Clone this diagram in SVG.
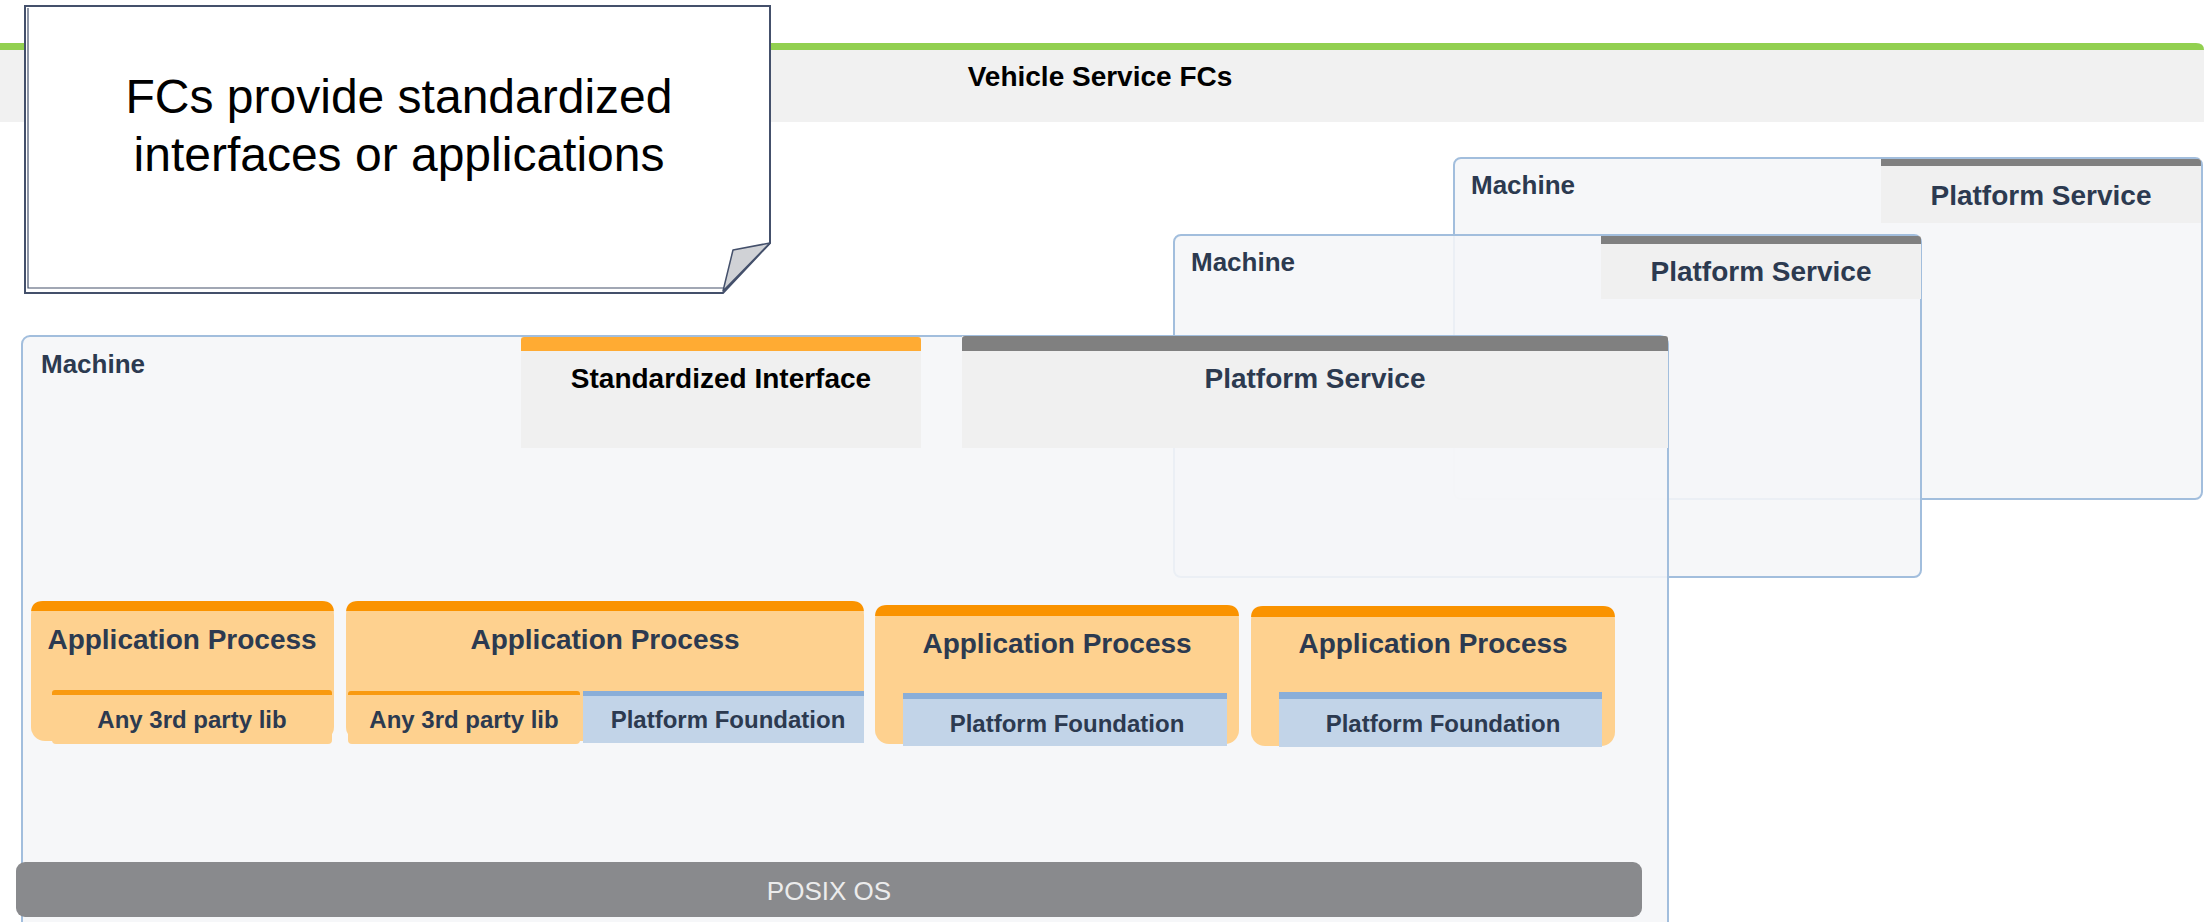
<svg xmlns="http://www.w3.org/2000/svg" width="2209" height="922" viewBox="0 0 2209 922">
<style>
.t{font-family:"Liberation Sans",Arial,sans-serif;font-weight:bold;text-anchor:middle}
.dk{fill:#2c3a50}
.mach{fill:#f5f6f8;fill-opacity:0.88;stroke:#a2bedd;stroke-width:2}
.hdr{fill:#f0f0f0}
.gbar{fill:#808080}
.app{fill:#fed18f}
.abar{fill:#fa9300}
.lib{fill:#fed18f}
.libbar{fill:#f99a10}
.pf{fill:#c2d4e8}
.pfbar{fill:#8aaed8}
.f28{font-size:28px}
.f24{font-size:24px}
.f26{font-size:26px}
</style>
<rect width="2209" height="922" fill="#ffffff"/>

<g id="vehicle-service-fcs">
  <path d="M0,43 H2196 Q2204,43 2204,51 V122 H0 Z" fill="#f1f1f1"/>
  <path d="M0,43 H2196 Q2204,43 2204,50 H0 Z" fill="#92d050"/>
  <text class="t f28" x="1100" y="86" fill="#000">Vehicle Service FCs</text>
</g>

<g id="machine-3">
  <rect class="mach" x="1454" y="158" width="748" height="341" rx="7"/>
  <text class="t f26 dk" x="1471" y="194" style="text-anchor:start">Machine</text>
  <g id="platform-service-3">
    <rect class="hdr" x="1881" y="159" width="320" height="64"/>
    <path class="gbar" d="M1881,159 H2198 Q2201,159 2201,162 V166 H1881 Z"/>
    <text class="t f28 dk" x="2041" y="205">Platform Service</text>
  </g>
</g>

<g id="machine-2">
  <rect class="mach" x="1174" y="235" width="747" height="342" rx="7"/>
  <text class="t f26 dk" x="1191" y="271" style="text-anchor:start">Machine</text>
  <g id="platform-service-2">
    <rect class="hdr" x="1601" y="236" width="320" height="63"/>
    <path class="gbar" d="M1601,236 H1918 Q1921,236 1921,239 V244 H1601 Z"/>
    <text class="t f28 dk" x="1761" y="281">Platform Service</text>
  </g>
</g>

<g id="machine-1">
  <rect class="mach" x="22" y="336" width="1646" height="600" rx="8"/>
  <text class="t f26 dk" x="41" y="373" style="text-anchor:start">Machine</text>
</g>

<g id="standardized-interface">
  <rect class="hdr" x="521" y="337" width="400" height="111"/>
  <path d="M521,351 V340 Q521,337 524,337 H918 Q921,337 921,340 V351 Z" fill="#ffab33"/>
  <text class="t f28" x="721" y="388" fill="#000">Standardized Interface</text>
</g>

<g id="platform-service-1">
  <rect class="hdr" x="962" y="336" width="706" height="112"/>
  <path class="gbar" d="M962,351 V339 Q962,336 965,336 H1665 Q1668,336 1668,339 V351 Z"/>
  <text class="t f28 dk" x="1315" y="388">Platform Service</text>
</g>

<g id="app-process-1">
  <rect class="app" x="31" y="601" width="303" height="140" rx="14"/>
  <path class="abar" d="M31,613 Q31,601 43,601 H322 Q334,601 334,613 V611 H31 Z"/>
  <text class="t f28 dk" x="182" y="649">Application Process</text>
  <g id="lib-1">
    <rect class="lib" x="52" y="690" width="280" height="54" rx="4"/>
    <path class="libbar" d="M52,695 V693 Q52,690 55,690 H329 Q332,690 332,693 V695 Z"/>
    <text class="t f24 dk" x="192" y="728">Any 3rd party lib</text>
  </g>
</g>

<g id="app-process-2">
  <rect class="app" x="346" y="601" width="518" height="140" rx="14"/>
  <path class="abar" d="M346,613 Q346,601 358,601 H852 Q864,601 864,613 V611 H346 Z"/>
  <text class="t f28 dk" x="605" y="649">Application Process</text>
  <g id="lib-2">
    <rect class="lib" x="348" y="691" width="232" height="53" rx="4"/>
    <path class="libbar" d="M348,695 V694 Q348,691 351,691 H577 Q580,691 580,694 V695 Z"/>
    <text class="t f24 dk" x="464" y="728">Any 3rd party lib</text>
  </g>
  <g id="pf-2">
    <rect class="pf" x="583" y="691" width="281" height="52"/>
    <rect class="pfbar" x="583" y="691" width="281" height="5"/>
    <text class="t f24 dk" x="728" y="728">Platform Foundation</text>
  </g>
</g>

<g id="app-process-3">
  <rect class="app" x="875" y="605" width="364" height="139" rx="14"/>
  <path class="abar" d="M875,617 Q875,605 887,605 H1227 Q1239,605 1239,617 V616 H875 Z"/>
  <text class="t f28 dk" x="1057" y="653">Application Process</text>
  <g id="pf-3">
    <rect class="pf" x="903" y="693" width="324" height="53"/>
    <rect class="pfbar" x="903" y="693" width="324" height="6"/>
    <text class="t f24 dk" x="1067" y="732">Platform Foundation</text>
  </g>
</g>

<g id="app-process-4">
  <rect class="app" x="1251" y="606" width="364" height="140" rx="14"/>
  <path class="abar" d="M1251,618 Q1251,606 1263,606 H1603 Q1615,606 1615,618 V617 H1251 Z"/>
  <text class="t f28 dk" x="1433" y="653">Application Process</text>
  <g id="pf-4">
    <rect class="pf" x="1279" y="692" width="323" height="55"/>
    <rect class="pfbar" x="1279" y="692" width="323" height="7"/>
    <text class="t f24 dk" x="1443" y="732">Platform Foundation</text>
  </g>
</g>

<g id="posix-os">
  <rect x="16" y="862" width="1626" height="55" rx="9" fill="#898a8d"/>
  <text x="829" y="900" font-family="'Liberation Sans',Arial,sans-serif" font-size="26" fill="#ececec" text-anchor="middle">POSIX OS</text>
</g>

<g id="note">
  <polygon points="25,6 770,6 770,243 723,293 25,293" fill="#ffffff" stroke="#44506b" stroke-width="2"/>
  <polyline points="28,8 28,288 726,288" fill="none" stroke="#44506b" stroke-width="1.2"/>
  <polygon points="733,250 770,243 723,291" fill="#d0d2d6" stroke="#44506b" stroke-width="1.5" stroke-linejoin="round"/>
  <text x="399" y="113" font-family="'Liberation Sans',Arial,sans-serif" font-size="48" fill="#000" text-anchor="middle">FCs provide standardized</text>
  <text x="399" y="171" font-family="'Liberation Sans',Arial,sans-serif" font-size="48" fill="#000" text-anchor="middle">interfaces or applications</text>
</g>

<g id="connectors"></g>
</svg>
